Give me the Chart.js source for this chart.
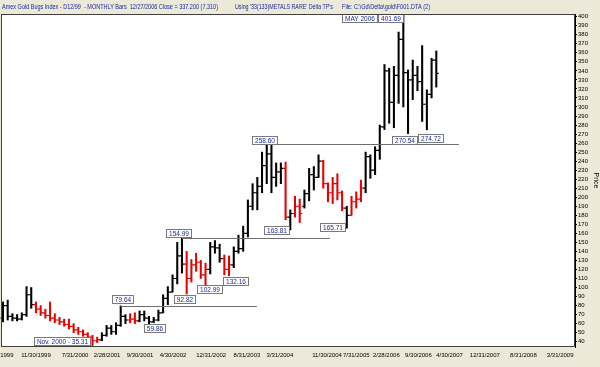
<!DOCTYPE html>
<html>
<head>
<meta charset="utf-8">
<script src="https://cdn.jsdelivr.net/npm/chart.js@4.4.1/dist/chart.umd.min.js"></script>
<style>
  html, body { margin: 0; padding: 0; background: #ece9d8; }
  canvas { display: block; }
</style>
</head>
<body>
<canvas id="chart" width="600" height="367"></canvas>
<script>
// Monthly bars, Apr 1999 .. Dec 2006
const months = [
  "1999-04","1999-05","1999-06","1999-07","1999-08","1999-09","1999-10","1999-11","1999-12",
  "2000-01","2000-02","2000-03","2000-04","2000-05","2000-06","2000-07","2000-08","2000-09","2000-10","2000-11","2000-12",
  "2001-01","2001-02","2001-03","2001-04","2001-05","2001-06","2001-07","2001-08","2001-09","2001-10","2001-11","2001-12",
  "2002-01","2002-02","2002-03","2002-04","2002-05","2002-06","2002-07","2002-08","2002-09","2002-10","2002-11","2002-12",
  "2003-01","2003-02","2003-03","2003-04","2003-05","2003-06","2003-07","2003-08","2003-09","2003-10","2003-11","2003-12",
  "2004-01","2004-02","2004-03","2004-04","2004-05","2004-06","2004-07","2004-08","2004-09","2004-10","2004-11","2004-12",
  "2005-01","2005-02","2005-03","2005-04","2005-05","2005-06","2005-07","2005-08","2005-09","2005-10","2005-11","2005-12",
  "2006-01","2006-02","2006-03","2006-04","2006-05","2006-06","2006-07","2006-08","2006-09","2006-10","2006-11","2006-12"
]
const opens = [
  66, 80, 68, 66, 65, 70, 92, 81, 76,
  72, 69, 66, 64, 62, 59, 57, 53, 51, 48, 45, 41,
  42, 47, 55, 51, 58, 68, 64, 65, 63, 70, 66, 62,
  64, 72, 88, 95, 110, 135, 126, 110, 125, 128, 114, 120,
  145, 144, 132, 120, 125, 140, 143, 160, 190, 205, 212, 235,
  248, 222, 228, 232, 178, 182, 190, 190, 204, 225, 222, 240,
  215, 205, 215, 205, 188, 180, 195, 198, 210, 245, 230, 252,
  278, 340, 305, 335, 375, 338, 330, 335, 328, 303, 314, 352
]
const highs = [
  84, 86, 71, 70, 72, 101, 100, 84, 80,
  76, 84, 71, 67, 65, 65, 60, 56, 53, 50, 47, 45,
  50, 58, 58, 61, 79.64, 70, 71, 72, 74, 74, 68, 67,
  75, 92, 101, 114, 150, 154.99, 140, 131, 138, 130, 127, 150,
  152, 148, 136, 135, 145, 158, 168, 197, 215, 222, 250, 258.6,
  258, 238, 238, 239, 186, 201, 198, 208, 232, 234, 247, 241,
  216, 222, 226, 207, 190, 201, 206, 219, 250, 247, 256, 280,
  347, 343, 345, 383, 401.69, 341, 352, 345, 368, 319, 354, 362
]
const lows = [
  62, 64, 63, 63, 64, 68, 77, 72, 69,
  66, 63, 61, 59, 57, 54, 50, 48, 46, 44, 35.31, 39,
  41, 46, 48, 48, 57, 60, 61, 60, 62, 63, 59.86, 61,
  63, 72, 81, 95, 104, 116, 92.82, 106, 118, 110, 102.99, 115,
  138, 128, 114, 113, 122, 138, 140, 156, 186, 186, 205, 215,
  205, 212, 215, 175, 163.81, 178, 172, 188, 196, 208, 222, 210,
  195, 193, 197, 185, 165.71, 180, 188, 195, 205, 221, 225, 242,
  275, 282, 277, 304, 300, 270.54, 308, 318, 284, 274.72, 310, 322
]
const closes = [
  80, 68, 66, 65, 70, 92, 81, 76, 72,
  69, 66, 64, 62, 59, 57, 53, 51, 48, 45, 41, 42,
  47, 55, 51, 58, 68, 64, 65, 63, 70, 66, 62, 64,
  72, 88, 95, 110, 135, 126, 110, 125, 128, 114, 120, 145,
  144, 132, 120, 125, 140, 143, 160, 190, 205, 212, 235, 248,
  222, 228, 232, 178, 182, 190, 182, 204, 225, 222, 240, 215,
  205, 215, 205, 188, 180, 195, 198, 210, 245, 230, 252, 278,
  340, 305, 335, 375, 338, 330, 335, 328, 303, 314, 352, 337.2
]
// k = black bar, r = red bar
const barColors = [
  "k","k","k","k","k","k","k","r","r",
  "r","r","r","r","r","r","r","r","r","r","r","r",
  "k","k","k","k","k","k","r","r","k","k","k","k",
  "k","k","k","k","k","k","r","r","r","r","r","k",
  "k","k","r","r","k","k","k","k","k","k","k","k",
  "k","k","k","r","k","r","r","k","k","k","k","r",
  "r","r","r","r","k","r","r","r","k","k","k","k",
  "k","k","k","k","k","k","k","k","k","k","k","k"
]

const xTickLabels = ["4/30/1999","11/30/1999","7/31/2000","2/28/2001","9/30/2001","4/30/2002","12/31/2002","8/31/2003",
  "3/31/2004","11/30/2004","7/31/2005","2/28/2006","9/30/2006","4/30/2007","12/31/2007","8/31/2008","3/31/2009"]
const xTickPos = [-0.6, 7.0, 15.3, 22.1, 29.1, 36.1, 44.2, 51.8, 58.8, 68.8, 75.0, 81.4, 88.2, 94.8, 102.3, 110.5, 118.3]
const yTickValues = [40,50,60,70,80,90,100,110,120,130,140,150,160,170,180,190,200,210,220,230,240,250,
  260,270,280,290,300,310,320,330,340,350,360,370,380,390,400]

// support / resistance levels: value, first bar, last bar
const levelValues = [79.64, 154.99, 258.6]
const levelFrom = [25, 38, 56]
const levelTo = [53.9, 69.4, 96.8]

// boxed notes: text, bar, value, box centre offset in px
const notes = [
  { text: "MAY 2006", i: 85, v: 401.69, dx: -44, dy: 3 },
  { text: "401.69", i: 85, v: 401.69, dx: -13, dy: 3 },
  { text: "270.54", i: 86, v: 270.54, dx: -4, dy: 6 },
  { text: "274.72", i: 90, v: 274.72, dx: 4, dy: 8 },
  { text: "258.60", i: 56, v: 258.6, dx: -2, dy: -4 },
  { text: "163.81", i: 61, v: 163.81, dx: -14, dy: 0 },
  { text: "165.71", i: 73, v: 165.71, dx: -14, dy: -1 },
  { text: "154.99", i: 38, v: 154.99, dx: -3, dy: -5 },
  { text: "102.99", i: 43, v: 102.99, dx: 4, dy: 4 },
  { text: "132.16", i: 47, v: 132.16, dx: 11, dy: 23 },
  { text: "92.82", i: 39, v: 92.82, dx: -2, dy: 5 },
  { text: "79.64", i: 25, v: 79.64, dx: 2, dy: -7 },
  { text: "59.86", i: 31, v: 59.86, dx: 6, dy: 4 },
  { text: "Nov. 2000 - 35.31", i: 19, v: 35.31, dx: -30, dy: -5 }
]

const FONT = "Liberation Sans, Arial, sans-serif"

const chrome = {
  id: "chrome",
  beforeDraw(chart) {
    const { ctx, chartArea: a } = chart
    ctx.save()
    ctx.fillStyle = "#ece9d8"
    ctx.fillRect(0, 0, chart.width, chart.height)
    ctx.fillStyle = "#ffffff"
    ctx.fillRect(a.left, a.top, a.right - a.left, a.bottom - a.top)
    ctx.fillStyle = "#1a2a9a"
    ctx.font = "7.5px " + FONT
    ctx.textBaseline = "middle"
    ctx.fillText("Amex Gold Bugs Index - D12/99  - MONTHLY Bars  12/27/2006 Close = 337.200 (7.310)", 2, 6.5, 216)
    ctx.fillText("Using '33(133)METALS RARE' Delta TP's", 235, 6.5, 98)
    ctx.fillText("File: C:\\Gd\\Delta\\gold\\F001.DTA (2)", 342, 6.5, 88)
    ctx.restore()
  },
  afterDatasetsDraw(chart) {
    const { ctx, chartArea: a, scales: { x, y } } = chart
    ctx.save()
    // open / close ticks
    ctx.lineWidth = 1.2
    months.forEach((m, i) => {
      const px = x.getPixelForValue(i)
      ctx.strokeStyle = barColors[i] === "r" ? "#e80000" : "#000000"
      ctx.beginPath()
      ctx.moveTo(px - 2.5, y.getPixelForValue(opens[i]))
      ctx.lineTo(px, y.getPixelForValue(opens[i]))
      ctx.moveTo(px, y.getPixelForValue(closes[i]))
      ctx.lineTo(px + 2.5, y.getPixelForValue(closes[i]))
      ctx.stroke()
    })
    // levels
    ctx.strokeStyle = "#6e6e6e"
    ctx.lineWidth = 1
    levelValues.forEach((v, k) => {
      const py = Math.round(y.getPixelForValue(v)) + 0.5
      ctx.beginPath()
      ctx.moveTo(x.getPixelForValue(levelFrom[k]), py)
      ctx.lineTo(x.getPixelForValue(levelTo[k]), py)
      ctx.stroke()
    })
    // boxed notes
    ctx.font = "6.5px " + FONT
    ctx.textAlign = "center"
    ctx.textBaseline = "middle"
    notes.forEach((n) => {
      const cx = x.getPixelForValue(n.i) + n.dx
      const cy = y.getPixelForValue(n.v) + n.dy
      const w = Math.round(ctx.measureText(n.text).width + 5)
      const h = 8
      const l = Math.round(cx - w / 2) + 0.5
      const t = Math.round(cy - h / 2) + 0.5
      ctx.fillStyle = "#ffffff"
      ctx.fillRect(l, t, w, h)
      ctx.strokeStyle = "#7a7a7a"
      ctx.strokeRect(l, t, w, h)
      ctx.fillStyle = "#1a2a9a"
      ctx.fillText(n.text, l + w / 2, t + h / 2 + 0.5)
    })
    // frame
    ctx.strokeStyle = "#404040"
    ctx.strokeRect(a.left + 0.5, a.top + 0.5, a.right - a.left - 1, a.bottom - a.top - 1)
    ctx.restore()
  }
}

new Chart(document.getElementById("chart"), {
  type: "bar",
  data: {
    datasets: [{
      data: months.map((m, i) => ({ x: i, y: [lows[i], highs[i]] })),
      backgroundColor: barColors.map((c) => (c === "r" ? "#e80000" : "#000000")),
      barThickness: 1.4,
      grouped: false
    }]
  },
  options: {
    responsive: false,
    animation: false,
    layout: { padding: { left: 1, top: 14, right: 0, bottom: 0 } },
    plugins: { legend: { display: false }, tooltip: { enabled: false } },
    scales: {
      x: {
        type: "linear",
        min: -0.42,
        max: 121.45,
        offset: false,
        afterBuildTicks: (s) => { s.ticks = xTickPos.map((v) => ({ value: v })) },
        afterFit: (s) => { s.height = 20; s.paddingLeft = 0; s.paddingRight = 0 },
        grid: { display: false, drawTicks: false },
        border: { display: false },
        ticks: {
          autoSkip: false,
          maxRotation: 0,
          padding: 5,
          color: "#000000",
          font: { family: FONT, size: 6 },
          callback: (v, idx) => xTickLabels[idx]
        }
      },
      y: {
        position: "right",
        min: 34.1,
        max: 403,
        afterBuildTicks: (s) => { s.ticks = yTickValues.map((v) => ({ value: v })) },
        afterFit: (s) => { s.width = 25 },
        grid: { drawOnChartArea: false, tickLength: 2, color: "#000000" },
        border: { display: true, color: "#000000", width: 1 },
        title: { display: true, text: "Price", color: "#000000", font: { family: FONT, size: 7 }, padding: 0 },
        ticks: {
          autoSkip: false,
          padding: 1,
          color: "#000000",
          font: { family: FONT, size: 6 },
          callback: (v) => v
        }
      }
    }
  },
  plugins: [chrome]
})
</script>
</body>
</html>
